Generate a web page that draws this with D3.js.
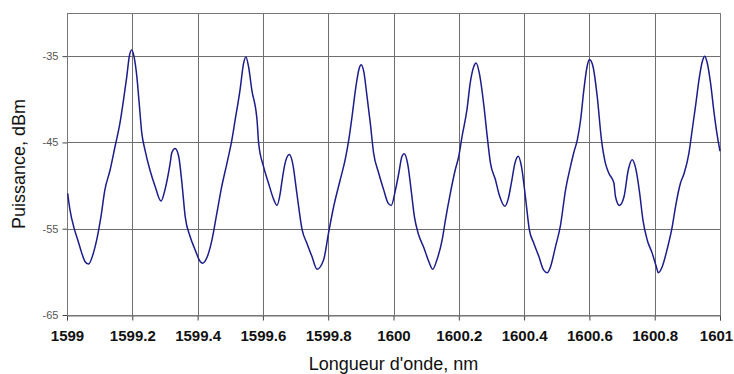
<!DOCTYPE html>
<html lang="fr">
<head>
<meta charset="UTF-8" />
<title>Puissance vs longueur d'onde</title>
<script src="https://d3js.org/d3.v7.min.js"></script>
<style>
  body { margin: 0; background: #fff; }
  svg { display: block; font-family: "Liberation Sans", Arial, sans-serif; }
</style>
</head>
<body>
<script>
    var w = 734;
    var h = 374;
    var margin = { top: 13, right: 14, bottom: 59, left: 67 };

    // wavelength (nm) and power (dBm)
    var wavelength = [
        1599.002, 1599.009, 1599.023, 1599.033, 1599.045, 1599.055, 1599.066, 1599.081, 1599.091, 1599.104,
        1599.116, 1599.132, 1599.147, 1599.162, 1599.173, 1599.183, 1599.191, 1599.198, 1599.207, 1599.214,
        1599.221, 1599.229, 1599.239, 1599.254, 1599.270, 1599.288, 1599.300, 1599.316, 1599.321, 1599.331,
        1599.342, 1599.352, 1599.362, 1599.377, 1599.392, 1599.408, 1599.415, 1599.428, 1599.444, 1599.459,
        1599.474, 1599.490, 1599.505, 1599.515, 1599.530, 1599.541, 1599.548, 1599.556, 1599.566, 1599.582,
        1599.587, 1599.602, 1599.617, 1599.633, 1599.643, 1599.653, 1599.658, 1599.668, 1599.681, 1599.691,
        1599.704, 1599.720, 1599.735, 1599.750, 1599.766, 1599.786, 1599.801, 1599.817, 1599.837, 1599.852,
        1599.863, 1599.873, 1599.885, 1599.895, 1599.901, 1599.909, 1599.919, 1599.929, 1599.939, 1599.955,
        1599.970, 1599.983, 1599.993, 1600.006, 1600.016, 1600.026, 1600.033, 1600.044, 1600.054, 1600.064,
        1600.077, 1600.093, 1600.108, 1600.120, 1600.133, 1600.149, 1600.159, 1600.174, 1600.189, 1600.200,
        1600.210, 1600.225, 1600.235, 1600.246, 1600.253, 1600.263, 1600.277, 1600.287, 1600.297, 1600.312,
        1600.324, 1600.341, 1600.351, 1600.361, 1600.372, 1600.382, 1600.392, 1600.404, 1600.416, 1600.430,
        1600.445, 1600.460, 1600.471, 1600.481, 1600.496, 1600.511, 1600.527, 1600.542, 1600.552, 1600.563,
        1600.573, 1600.583, 1600.593, 1600.600, 1600.611, 1600.624, 1600.637, 1600.649, 1600.660, 1600.675,
        1600.680, 1600.692, 1600.706, 1600.719, 1600.731, 1600.743, 1600.754, 1600.764, 1600.777, 1600.792,
        1600.805, 1600.811, 1600.823, 1600.838, 1600.854, 1600.864, 1600.879, 1600.890, 1600.905, 1600.915,
        1600.925, 1600.937, 1600.946, 1600.953, 1600.961, 1600.971, 1600.982, 1600.992, 1601.000
    ];
    var power = [
        -50.9, -52.8, -55.1, -56.3, -57.8, -58.8, -59.1, -57.8, -56.3, -53.6,
        -50.5, -48.2, -45.5, -42.8, -40.1, -37.4, -35.0, -34.3, -35.4, -37.4,
        -40.4, -43.9, -45.9, -48.2, -50.1, -51.8, -50.5, -47.4, -46.2, -45.7,
        -46.6, -49.7, -53.6, -55.9, -57.4, -58.8, -59.0, -58.4, -56.3, -53.2,
        -50.1, -47.4, -44.7, -42.4, -38.9, -35.8, -35.1, -36.2, -38.9, -42.4,
        -45.1, -47.8, -49.7, -51.6, -52.3, -50.9, -49.6, -47.4, -46.4, -47.4,
        -50.9, -55.1, -56.7, -58.2, -59.7, -58.6, -55.5, -52.4, -49.3, -47.0,
        -44.7, -42.0, -38.5, -36.4, -36.0, -36.8, -39.7, -42.8, -46.2, -48.6,
        -50.5, -52.0, -52.3, -50.5, -48.6, -46.6, -46.3, -47.6, -50.5, -53.6,
        -55.7, -57.2, -58.8, -59.7, -58.6, -56.3, -54.0, -50.9, -48.2, -46.6,
        -44.3, -41.2, -38.1, -36.2, -35.8, -37.0, -40.8, -44.3, -47.4, -49.3,
        -51.1, -52.4, -51.6, -49.7, -47.4, -46.6, -47.8, -51.3, -55.1, -56.7,
        -58.2, -59.8, -60.1, -59.4, -57.1, -54.7, -50.5, -47.8, -46.2, -44.7,
        -42.4, -38.9, -36.2, -35.4, -36.2, -39.7, -44.7, -47.4, -48.6, -49.7,
        -51.3, -52.3, -51.3, -48.2, -47.0, -48.2, -50.9, -54.0, -56.3, -57.8,
        -59.4, -60.1, -59.4, -57.4, -54.7, -52.4, -49.7, -48.6, -46.2, -43.5,
        -40.8, -37.4, -35.6, -35.0, -35.8, -38.1, -41.6, -44.3, -46.0
    ];

    var xTicks = [1599, 1599.2, 1599.4, 1599.6, 1599.8, 1600, 1600.2, 1600.4, 1600.6, 1600.8, 1601];
    var yTicks = [-65, -55, -45, -35];
    var yDomain = [-65, -30];

    var dataset = wavelength.map(function(d, i) {
        return { x: d, y: power[i] };
    });

    var svg = d3.select("body")
        .append("svg")
        .attr("width", w)
        .attr("height", h);

    var xScale = d3.scaleLinear()
        .domain([xTicks[0], xTicks[xTicks.length - 1]])
        .range([margin.left, w - margin.right]);

    var yScale = d3.scaleLinear()
        .domain(yDomain)
        .range([h - margin.bottom, margin.top]);

    // Gridlines
    svg.append("g")
        .selectAll("line.vgrid")
        .data(xTicks)
        .enter()
        .append("line")
        .attr("x1", function(d) { return Math.round(xScale(d)) + 0.5; })
        .attr("x2", function(d) { return Math.round(xScale(d)) + 0.5; })
        .attr("y1", margin.top)
        .attr("y2", h - margin.bottom)
        .attr("stroke", "#6e6e6e")
        .attr("stroke-width", 1);

    svg.append("g")
        .selectAll("line.hgrid")
        .data(yTicks.concat([yDomain[1]]))
        .enter()
        .append("line")
        .attr("x1", margin.left)
        .attr("x2", w - margin.right)
        .attr("y1", function(d) { return Math.round(yScale(d)) + 0.5; })
        .attr("y2", function(d) { return Math.round(yScale(d)) + 0.5; })
        .attr("stroke", "#6e6e6e")
        .attr("stroke-width", 1);

    // Axes
    var xAxis = d3.axisBottom(xScale)
        .tickValues(xTicks)
        .tickSize(5)
        .tickPadding(10)
        .tickFormat(function(d) { return String(+d.toFixed(1)); });

    var gx = svg.append("g")
        .attr("transform", "translate(0," + (Math.round(yScale(yDomain[0])) + 0.5) + ")")
        .call(xAxis);
    gx.select(".domain").attr("stroke", "#6e6e6e");
    gx.selectAll(".tick line").attr("stroke", "#444");
    gx.selectAll(".tick text")
        .attr("font-size", 15)
        .attr("font-weight", "bold")
        .attr("fill", "#111")
        .style("font-family", "'Liberation Sans', Arial, sans-serif");
    // keep the last label inside the page
    gx.selectAll(".tick text")
        .filter(function(d, i) { return i === xTicks.length - 1; })
        .attr("x", -4);

    var yAxis = d3.axisLeft(yScale)
        .tickValues(yTicks)
        .tickSize(5)
        .tickPadding(4)
        .tickFormat(function(d) { return String(d); });

    var gy = svg.append("g")
        .attr("transform", "translate(" + (Math.round(xScale(xTicks[0])) + 0.5) + ",0)")
        .call(yAxis);
    gy.select(".domain").remove();
    gy.selectAll(".tick line").attr("stroke", "#444");
    gy.selectAll(".tick text")
        .attr("font-size", 11)
        .attr("fill", "#555")
        .style("font-family", "'Liberation Sans', Arial, sans-serif");

    // Border
    svg.append("rect")
        .attr("x", Math.round(xScale(xTicks[0])) + 0.5)
        .attr("y", Math.round(yScale(yDomain[1])) + 0.5)
        .attr("width", Math.round(xScale(xTicks[xTicks.length - 1])) - Math.round(xScale(xTicks[0])))
        .attr("height", Math.round(yScale(yDomain[0])) - Math.round(yScale(yDomain[1])))
        .attr("fill", "none")
        .attr("stroke", "#777");

    // Trace
    var line = d3.line()
        .x(function(d) { return xScale(d.x); })
        .y(function(d) { return yScale(d.y); })
        .curve(d3.curveMonotoneX);

    svg.append("path")
        .datum(dataset)
        .attr("d", line)
        .attr("fill", "none")
        .attr("stroke", "#1c1c8a")
        .attr("stroke-width", 1.5)
        .attr("stroke-linejoin", "round");

    // Axis titles
    svg.append("text")
        .attr("x", (margin.left + w - margin.right) / 2)
        .attr("y", 370)
        .attr("text-anchor", "middle")
        .attr("font-size", 18)
        .attr("fill", "#111")
        .text("Longueur d'onde, nm");

    svg.append("text")
        .attr("transform", "translate(25," + ((margin.top + h - margin.bottom) / 2) + ") rotate(-90)")
        .attr("text-anchor", "middle")
        .attr("font-size", 18)
        .attr("fill", "#111")
        .text("Puissance, dBm");
</script>
</body>
</html>
